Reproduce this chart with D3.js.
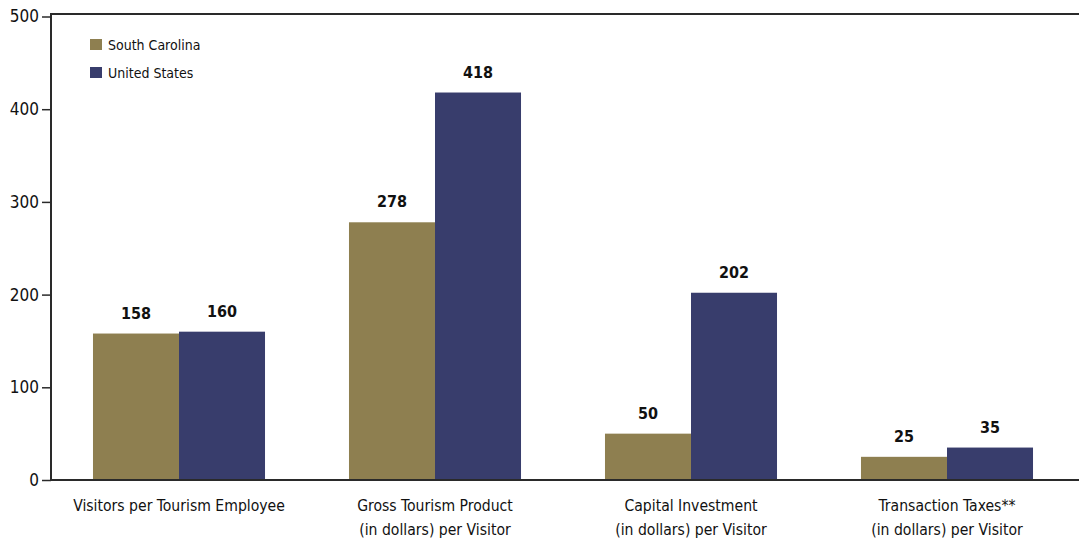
<!DOCTYPE html>
<html>
<head>
<meta charset="utf-8">
<script src="https://cdn.jsdelivr.net/npm/d3@7"></script>
<style>
  html, body { margin: 0; padding: 0; background: #fff; }
  svg { display: block; font-family: "Liberation Sans Narrow", "DejaVu Sans Condensed", "Roboto", sans-serif; }
</style>
</head>
<body>
<svg id="chart" width="1079" height="541"></svg>
<script>
// Tourism indicators: South Carolina vs. United States
const categories = [
  ["Visitors per Tourism Employee"],
  ["Gross Tourism Product", "(in dollars) per Visitor"],
  ["Capital Investment", "(in dollars) per Visitor"],
  ["Transaction Taxes**", "(in dollars) per Visitor"]
];
const seriesNames = ["South Carolina", "United States"];
const southCarolina = [158, 278, 50, 25];
const unitedStates = [160, 418, 202, 35];
const yTicks = [0, 100, 200, 300, 400, 500];

const colors = ["#8e7f50", "#383d6c"];
const seriesValues = [southCarolina, unitedStates];

const svg = d3.select("#chart");
const W = 1079, H = 541;
const plotLeft = 51, plotRight = 1075, plotTop = 16.5, plotBottom = 480;
const frameTop = 14;

const x0 = d3.scaleBand()
  .domain(d3.range(categories.length))
  .range([plotLeft, plotRight])
  .paddingInner(0.328)
  .paddingOuter(0.164);

const x1 = d3.scaleBand()
  .domain(d3.range(seriesNames.length))
  .range([0, x0.bandwidth()]);

const y = d3.scaleLinear().domain([0, 500]).range([plotBottom, plotTop]);

// Bars
const groups = svg.append("g")
  .selectAll("g")
  .data(categories.map((c, i) => i))
  .join("g")
  .attr("transform", i => `translate(${x0(i)},0)`);

groups.selectAll("rect")
  .data(i => seriesValues.map((s, k) => ({ k, v: s[i] })))
  .join("rect")
  .attr("x", d => x1(d.k))
  .attr("width", x1.bandwidth())
  .attr("y", d => y(d.v))
  .attr("height", d => y(0) - y(d.v))
  .attr("fill", d => colors[d.k]);

// Value labels
groups.selectAll("text")
  .data(i => seriesValues.map((s, k) => ({ k, v: s[i] })))
  .join("text")
  .attr("x", d => x1(d.k) + x1.bandwidth() / 2)
  .attr("y", d => y(d.v) - 15)
  .attr("text-anchor", "middle")
  .attr("font-size", 16)
  .attr("font-weight", "bold")
  .attr("fill", "#111")
  .text(d => d.v);

// Frame lines: top and baseline span to the right edge
svg.append("line")
  .attr("x1", plotLeft).attr("x2", W)
  .attr("y1", frameTop).attr("y2", frameTop)
  .attr("stroke", "#2a2a2a").attr("stroke-width", 2);
svg.append("line")
  .attr("x1", plotLeft).attr("x2", W)
  .attr("y1", y(0)).attr("y2", y(0))
  .attr("stroke", "#2a2a2a").attr("stroke-width", 2);

// Y axis
const yAxis = d3.axisLeft(y).tickValues(yTicks).tickSize(9).tickPadding(3).tickSizeOuter(0);
const ya = svg.append("g")
  .attr("transform", `translate(${plotLeft},0)`)
  .call(yAxis);
ya.select(".domain")
  .attr("d", `M0,${frameTop - 1}V${plotBottom}`)
  .attr("stroke", "#2a2a2a").attr("stroke-width", 2);
ya.selectAll(".tick line").attr("stroke", "#2a2a2a").attr("stroke-width", 1.5);
ya.selectAll(".tick text")
  .attr("font-size", 17)
  .attr("fill", "#111");
ya.attr("font-family", null).attr("font-size", null);

// Category labels
const catLabels = svg.append("g")
  .selectAll("text")
  .data(categories)
  .join("text")
  .attr("x", (d, i) => x0(i) + x0.bandwidth() / 2)
  .attr("y", 511)
  .attr("text-anchor", "middle")
  .attr("font-size", 15.6)
  .attr("fill", "#111");
catLabels.selectAll("tspan")
  .data(d => d)
  .join("tspan")
  .attr("x", function () { return d3.select(this.parentNode).attr("x"); })
  .attr("dy", (d, j) => j === 0 ? 0 : 24)
  .text(d => d);

// Legend
const legend = svg.append("g")
  .selectAll("g")
  .data(seriesNames)
  .join("g")
  .attr("transform", (d, i) => `translate(90,${39 + i * 28})`);
legend.append("rect")
  .attr("width", 12).attr("height", 11)
  .attr("fill", (d, i) => colors[i]);
legend.append("text")
  .attr("x", 18).attr("y", 11)
  .attr("font-size", 14)
  .attr("fill", "#111")
  .text(d => d);
</script>
</body>
</html>
